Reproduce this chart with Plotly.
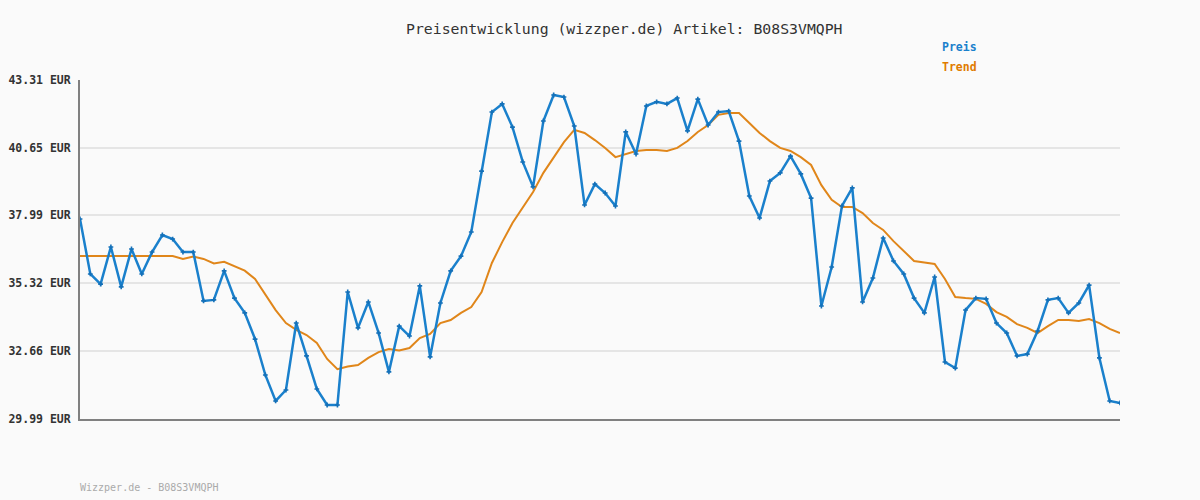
import plotly.graph_objects as go

price = [37.85, 35.69, 35.29, 36.75, 35.18, 36.67, 35.69, 36.55, 37.22, 37.06,
         36.55, 36.55, 34.63, 34.67, 35.81, 34.74, 34.16, 33.13, 31.72, 30.70,
         31.13, 33.76, 32.47, 31.17, 30.54, 30.54, 34.98, 33.57, 34.59, 33.37,
         31.84, 33.64, 33.25, 35.22, 32.43, 34.55, 35.81, 36.39, 37.34, 39.73,
         42.05, 42.37, 41.46, 40.09, 39.11, 41.70, 42.72, 42.64, 41.50, 38.40,
         39.22, 38.87, 38.36, 41.27, 40.40, 42.29, 42.45, 42.37, 42.60, 41.31,
         42.56, 41.54, 42.05, 42.09, 40.91, 38.75, 37.89, 39.34, 39.66, 40.32,
         39.62, 38.67, 34.43, 35.96, 38.36, 39.07, 34.59, 35.53, 37.10, 36.20,
         35.69, 34.74, 34.16, 35.57, 32.23, 31.99, 34.27, 34.74, 34.71, 33.76,
         33.37, 32.47, 32.54, 33.45, 34.67, 34.74, 34.16, 34.55, 35.25, 32.39,
         30.70, 30.62]

trend = [36.39, 36.39, 36.39, 36.39, 36.39, 36.39, 36.39, 36.39, 36.39, 36.39,
         36.28, 36.37, 36.28, 36.10, 36.17, 35.98, 35.82, 35.49, 34.86, 34.27,
         33.76, 33.49, 33.29, 32.98, 32.35, 31.95, 32.05, 32.11, 32.39, 32.62,
         32.74, 32.68, 32.78, 33.17, 33.33, 33.76, 33.88, 34.16, 34.39, 34.98,
         36.12, 36.94, 37.69, 38.28, 38.91, 39.66, 40.25, 40.87, 41.35, 41.23,
         40.95, 40.64, 40.28, 40.40, 40.52, 40.56, 40.56, 40.52, 40.64, 40.91,
         41.27, 41.54, 41.94, 42.01, 42.01, 41.62, 41.23, 40.91, 40.64, 40.52,
         40.28, 39.97, 39.18, 38.60, 38.32, 38.32, 38.08, 37.69, 37.42, 36.98,
         36.59, 36.20, 36.14, 36.08, 35.49, 34.78, 34.74, 34.71, 34.51, 34.19,
         34.00, 33.72, 33.57, 33.37, 33.64, 33.88, 33.88, 33.84, 33.92, 33.76,
         33.53, 33.37]

y_ticks = [29.99, 32.66, 35.32, 37.99, 40.65, 43.31]
y_tick_labels = ["%.2f EUR" % v for v in y_ticks]

title = "Preisentwicklung (wizzper.de) Artikel: B08S3VMQPH"
footer = "Wizzper.de - B08S3VMQPH"

BLUE = "#1a80cc"
ORANGE = "#e0861a"
MONO = "DejaVu Sans Mono"

x = list(range(len(price)))

fig = go.Figure()
fig.add_trace(go.Scatter(x=x, y=trend, mode="lines", name="Trend",
                         line=dict(color=ORANGE, width=2), hoverinfo="skip"))
fig.add_trace(go.Scatter(x=x, y=price, mode="lines+markers", name="Preis",
                         line=dict(color=BLUE, width=2.5),
                         marker=dict(symbol="cross", size=4, color="#1470b8",
                                     line=dict(width=0))))

fig.update_layout(
    width=1200, height=500,
    paper_bgcolor="#fafafa", plot_bgcolor="#fafafa",
    margin=dict(l=80, r=80, t=80, b=81),
    showlegend=False,
    xaxis=dict(range=[0, len(price) - 1], showgrid=False, zeroline=False,
               showticklabels=False, ticks="", showline=True,
               linecolor="#808080", linewidth=2, automargin=False),
    yaxis=dict(range=[y_ticks[0], y_ticks[-1]], tickvals=y_ticks,
               ticktext=["<b>%s</b>" % t for t in y_tick_labels],
               tickfont=dict(family=MONO, size=11.5, color="#333333"),
               showgrid=True, gridcolor="#e5e5e5", gridwidth=2,
               zeroline=False, showline=True, linecolor="#808080",
               linewidth=2, ticks="", ticklen=0, ticklabelstandoff=5,
               automargin=False),
    annotations=[
        dict(text=title, xref="paper", yref="paper", x=(624 - 80) / 1040,
             y=1.0, yshift=52, xanchor="center", yanchor="middle",
             showarrow=False,
             font=dict(family=MONO, size=14.8, color="#333333")),
        dict(text="<b>Preis</b>", xref="paper", yref="paper",
             x=(940 - 80) / 1040, y=1.0, yshift=33, xanchor="left",
             yanchor="middle", showarrow=False,
             font=dict(family=MONO, size=11.5, color="#1a80cc")),
        dict(text="<b>Trend</b>", xref="paper", yref="paper",
             x=(940 - 80) / 1040, y=1.0, yshift=13, xanchor="left",
             yanchor="middle", showarrow=False,
             font=dict(family=MONO, size=11.5, color="#e07b00")),
        dict(text=footer, xref="paper", yref="paper", x=0, y=0,
             xshift=-2, yshift=-68, xanchor="left", yanchor="middle",
             showarrow=False,
             font=dict(family=MONO, size=10, color="#aaaaaa")),
    ],
)

fig.write_html("out.html")
